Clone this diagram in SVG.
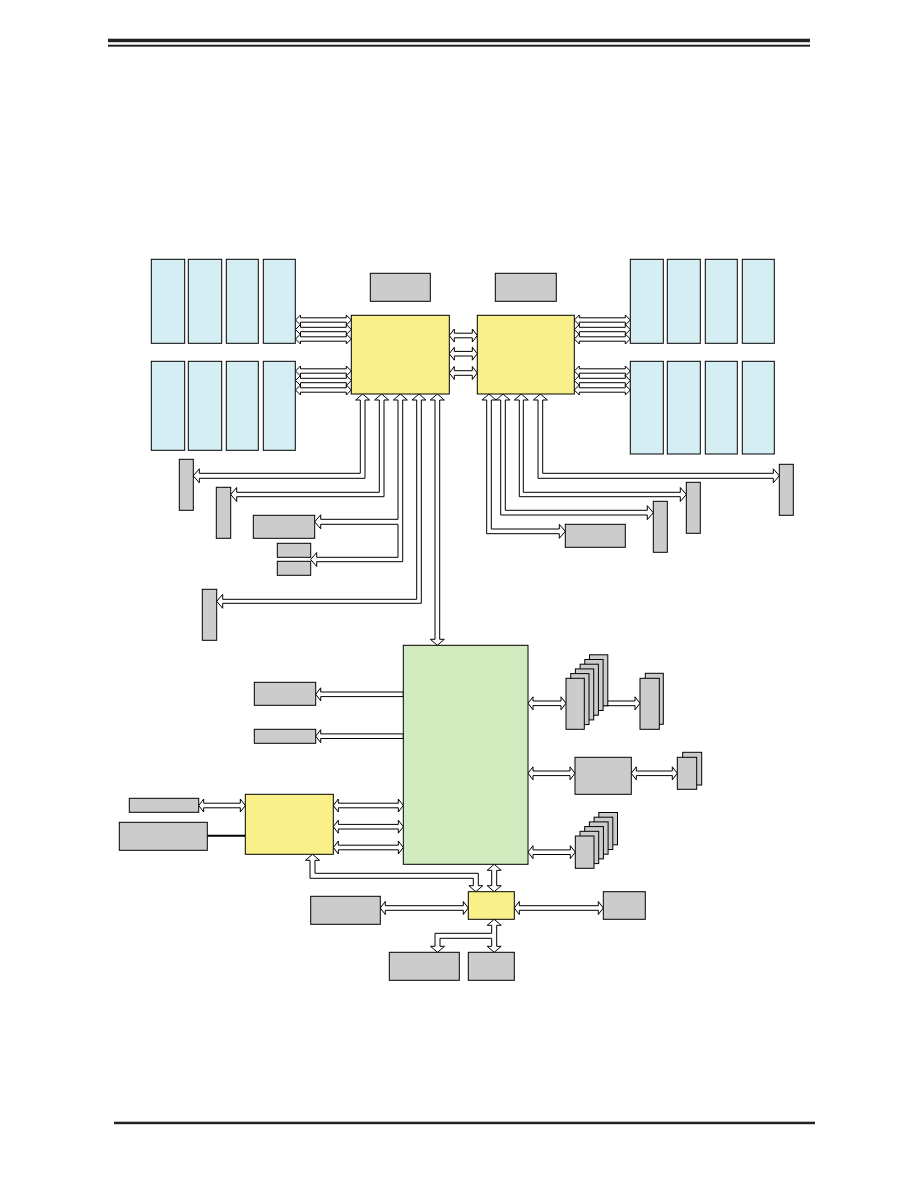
<svg xmlns="http://www.w3.org/2000/svg" width="918" height="1188" viewBox="0 0 918 1188">
<style>
.ln{fill:#222;}
.dimm{fill:#d5eef3;stroke:#000;stroke-width:1;}
.cpu{fill:#faf08a;stroke:#000;stroke-width:1;}
.pch{fill:#d2ebbf;stroke:#000;stroke-width:1;}
.gray{fill:#cccccc;stroke:#000;stroke-width:1;}
.arr{fill:#fff;stroke:#000;stroke-width:1;stroke-linejoin:miter;}
</style>
<rect width="918" height="1188" fill="#fff"/>
<g id="header">
<rect class="ln" x="108" y="38.7" width="702" height="3.5"/>
<rect class="ln" x="108" y="44.7" width="702" height="2"/>
</g>
<g id="footer">
<rect class="ln" x="114" y="1121.7" width="701" height="2.5"/>
</g>

<g id="connectors">
<!-- left DIMM arrows -->
<path class="arr" d="M295.5,320 l5,-5 v2.8 h45.8 v-2.8 l5,5 l-5,5 v-2.8 h-45.8 v2.8 z"/>
<path class="arr" d="M295.5,329.5 l5,-5 v2.8 h45.8 v-2.8 l5,5 l-5,5 v-2.8 h-45.8 v2.8 z"/>
<path class="arr" d="M295.5,339 l5,-5 v2.8 h45.8 v-2.8 l5,5 l-5,5 v-2.8 h-45.8 v2.8 z"/>
<path class="arr" d="M295.5,371 l5,-5 v2.8 h45.8 v-2.8 l5,5 l-5,5 v-2.8 h-45.8 v2.8 z"/>
<path class="arr" d="M295.5,380.5 l5,-5 v2.8 h45.8 v-2.8 l5,5 l-5,5 v-2.8 h-45.8 v2.8 z"/>
<path class="arr" d="M295.5,390 l5,-5 v2.8 h45.8 v-2.8 l5,5 l-5,5 v-2.8 h-45.8 v2.8 z"/>
<!-- right DIMM arrows -->
<path class="arr" d="M574.3,320 l5,-5 v2.8 h46 v-2.8 l5,5 l-5,5 v-2.8 h-46 v2.8 z"/>
<path class="arr" d="M574.3,329.5 l5,-5 v2.8 h46 v-2.8 l5,5 l-5,5 v-2.8 h-46 v2.8 z"/>
<path class="arr" d="M574.3,339 l5,-5 v2.8 h46 v-2.8 l5,5 l-5,5 v-2.8 h-46 v2.8 z"/>
<path class="arr" d="M574.3,371 l5,-5 v2.8 h46 v-2.8 l5,5 l-5,5 v-2.8 h-46 v2.8 z"/>
<path class="arr" d="M574.3,380.5 l5,-5 v2.8 h46 v-2.8 l5,5 l-5,5 v-2.8 h-46 v2.8 z"/>
<path class="arr" d="M574.3,390 l5,-5 v2.8 h46 v-2.8 l5,5 l-5,5 v-2.8 h-46 v2.8 z"/>
<!-- inter-CPU -->
<path class="arr" d="M449.3,335.5 l5,-6.5 v4.2 h18 v-4.2 l5,6.5 l-5,6.5 v-4.2 h-18 v4.2 z"/>
<path class="arr" d="M449.3,353.7 l5,-6.5 v4.2 h18 v-4.2 l5,6.5 l-5,6.5 v-4.2 h-18 v4.2 z"/>
<path class="arr" d="M449.3,373 l5,-6.5 v4.2 h18 v-4.2 l5,6.5 l-5,6.5 v-4.2 h-18 v4.2 z"/>
<!-- CPU1 bottom arrows -->
<path class="arr" d="M362.65,394 L369.65,400 H365 V478.3 H199.3 V482.8 L193.3,475.8 L199.3,468.8 V473.3 H360.3 V400 H355.65 Z"/>
<path class="arr" d="M381.65,394 L388.65,400 H384 V496.7 H236.7 V501.5 L230.7,494.5 L236.7,487.5 V492.3 H379.3 V400 H374.65 Z"/>
<path class="arr" d="M400.35,394 L407.35,400 H402.7 V561.7 H316.7 V566.5 L310.7,559.5 L316.7,552.5 V557.3 H398 V524.3 H320.7 V528.8 L314.7,521.8 L320.7,514.8 V519.3 H398 V400 H393.35 Z"/>
<path class="arr" d="M419,394 L426,400 H421.3 V603.3 H222.7 V608.3 L216.7,601.3 L222.7,594.3 V599.3 H416.7 V400 H412 Z"/>
<path class="arr" d="M437.35,394 l7,6 h-4.65 V639.3 h4.65 l-7,6 l-7,-6 h4.65 V400 h-4.65 z"/>
<!-- CPU2 bottom arrows -->
<path class="arr" d="M489,394 L496,400 H491.3 V529 H559.3 V524.35 L565.3,531.35 L559.3,538.35 V533.7 H486.7 V400 H482 Z"/>
<path class="arr" d="M503,394 L510,400 H505.3 V510.3 H647.3 V505.65 L653.3,512.65 L647.3,519.65 V515 H500.7 V400 H496 Z"/>
<path class="arr" d="M521.3,394 L528.3,400 H523.3 V492.3 H680.3 V487.5 L686.3,494.5 L680.3,501.5 V496.7 H519.3 V400 H514.3 Z"/>
<path class="arr" d="M540.35,394 L547.35,400 H542.7 V473.3 H773.3 V468.8 L779.3,475.8 L773.3,482.8 V478.3 H538 V400 H533.35 Z"/>
<!-- PCH left single arrows -->
<path class="arr" d="M315.7,694.3 l5,-6.5 v4.2 H403.3 v4.6 H320.7 v4.2 z"/>
<path class="arr" d="M315.7,736.2 l5,-6.5 v4.2 H403.3 v4.6 H320.7 v4.2 z"/>
<!-- N - M -->
<path class="arr" d="M198.7,805.5 l5,-6.5 v4.2 h36.6 v-4.2 l5,6.5 l-5,6.5 v-4.2 h-36.6 v4.2 z"/>
<line x1="207.3" y1="835.7" x2="245.3" y2="835.7" stroke="#000" stroke-width="2"/>
<!-- M - PCH -->
<path class="arr" d="M333.3,805.5 l5,-6.5 v4.2 h60 v-4.2 l5,6.5 l-5,6.5 v-4.2 h-60 v4.2 z"/>
<path class="arr" d="M333.3,826.7 l5,-6.5 v4.2 h60 v-4.2 l5,6.5 l-5,6.5 v-4.2 h-60 v4.2 z"/>
<path class="arr" d="M333.3,847.5 l5,-6.5 v4.2 h60 v-4.2 l5,6.5 l-5,6.5 v-4.2 h-60 v4.2 z"/>
<!-- PCH right -->
<path class="arr" d="M528,703.3 l5,-6.5 v4.2 h28 v-4.2 l5,6.5 l-5,6.5 v-4.2 h-28 v4.2 z"/>
<path class="arr" d="M595,701 H635 V696.8 L640,703.3 L635,709.8 V705.7 H595 Z"/>
<path class="arr" d="M528,773.3 l5,-6.5 v4.2 h37 v-4.2 l5,6.5 l-5,6.5 v-4.2 h-37 v4.2 z"/>
<path class="arr" d="M631.3,773.3 l5,-6.5 v4.2 h36 v-4.2 l5,6.5 l-5,6.5 v-4.2 h-36 v4.2 z"/>
<path class="arr" d="M528,852.2 l5,-6.5 v4.2 h37.3 v-4.2 l5,6.5 l-5,6.5 v-4.2 h-37.3 v4.2 z"/>
<!-- hub -->
<path class="arr" d="M494.2,864.3 l7,6 h-4.5 V885.7 h4.5 l-7,6 l-7,-6 h4.5 V870.3 h-4.5 z"/>
<path class="arr" d="M312.5,854.3 L319.5,860.3 H315 V873.3 H478.3 V885.7 H482.8 L475.8,891.7 L468.8,885.7 H473.3 V878.3 H310 V860.3 H305.5 Z"/>
<path class="arr" d="M380.3,908 l5,-6.5 v4.2 h78 v-4.2 l5,6.5 l-5,6.5 v-4.2 h-78 v4.2 z"/>
<path class="arr" d="M514.3,908 l5,-6.5 v4.2 h79 v-4.2 l5,6.5 l-5,6.5 v-4.2 h-79 v4.2 z"/>
<path class="arr" d="M494.2,919.3 L501.2,925.3 H496.7 V946.3 H501.2 L494.2,952.3 L487.2,946.3 H491.7 V938.3 H440 V946.3 H444.5 L437.5,952.3 L430.5,946.3 H435 V933.3 H491.7 V925.3 H487.2 Z"/>
</g>

<g id="dimms-cpu1">
<rect class="dimm" x="151.3" y="259.3" width="33.4" height="84"/>
<rect class="dimm" x="188.3" y="259.3" width="33.4" height="84"/>
<rect class="dimm" x="226.3" y="259.3" width="32" height="84"/>
<rect class="dimm" x="263.3" y="259.3" width="32" height="84"/>
<rect class="dimm" x="151.3" y="361.3" width="33.4" height="89"/>
<rect class="dimm" x="188.3" y="361.3" width="33.4" height="89"/>
<rect class="dimm" x="226.3" y="361.3" width="32" height="89"/>
<rect class="dimm" x="263.3" y="361.3" width="32" height="89"/>
</g>
<g id="dimms-cpu2">
<rect class="dimm" x="630.3" y="259.3" width="33" height="84"/>
<rect class="dimm" x="667.3" y="259.3" width="33" height="84"/>
<rect class="dimm" x="705.3" y="259.3" width="32" height="84"/>
<rect class="dimm" x="742.3" y="259.3" width="32" height="84"/>
<rect class="dimm" x="630.3" y="361.3" width="33" height="92.7"/>
<rect class="dimm" x="667.3" y="361.3" width="33" height="92.7"/>
<rect class="dimm" x="705.3" y="361.3" width="32" height="92.7"/>
<rect class="dimm" x="742.3" y="361.3" width="32" height="92.7"/>
</g>
<g id="vrm1"><rect class="gray" x="370.3" y="273.3" width="60" height="28"/></g>
<g id="vrm2"><rect class="gray" x="495.3" y="273.3" width="61" height="28"/></g>
<g id="cpu1"><rect class="cpu" x="351.3" y="315.3" width="98" height="78.7"/></g>
<g id="cpu2"><rect class="cpu" x="477.3" y="315.3" width="97" height="78.7"/></g>
<g id="slotA"><rect class="gray" x="179.3" y="459.3" width="14" height="51"/></g>
<g id="slotB"><rect class="gray" x="216.3" y="487.3" width="14.4" height="51"/></g>
<g id="boxC"><rect class="gray" x="253.3" y="515.3" width="61.4" height="23"/></g>
<g id="boxD"><rect class="gray" x="277.3" y="543.3" width="33.4" height="14"/></g>
<g id="boxE"><rect class="gray" x="277.3" y="561.3" width="33.4" height="14"/></g>
<g id="slotF"><rect class="gray" x="202.3" y="589.3" width="14.4" height="51"/></g>
<g id="boxG"><rect class="gray" x="565.3" y="524.3" width="60" height="23"/></g>
<g id="slotH"><rect class="gray" x="653.3" y="501.3" width="14" height="51"/></g>
<g id="slotI"><rect class="gray" x="686.3" y="482.3" width="14" height="51"/></g>
<g id="slotJ"><rect class="gray" x="779.3" y="464.3" width="14" height="51"/></g>
<g id="pch"><rect class="pch" x="403.3" y="645.3" width="124.7" height="219"/></g>
<g id="boxK"><rect class="gray" x="254.3" y="682.3" width="61.4" height="23"/></g>
<g id="boxL"><rect class="gray" x="254.3" y="729.3" width="61.4" height="14"/></g>
<g id="bmc"><rect class="cpu" x="245.3" y="794.3" width="88" height="60"/></g>
<g id="boxN"><rect class="gray" x="129.3" y="798.3" width="69.4" height="14"/></g>
<g id="boxO"><rect class="gray" x="119.3" y="822.3" width="88" height="28"/></g>
<g id="stack1">
<rect class="gray" x="589.5" y="654.8" width="18.3" height="51"/>
<rect class="gray" x="584.8" y="659.5" width="18.3" height="51"/>
<rect class="gray" x="580.1" y="664.2" width="18.3" height="51"/>
<rect class="gray" x="575.4" y="668.9" width="18.3" height="51"/>
<rect class="gray" x="570.7" y="673.6" width="18.3" height="51"/>
<rect class="gray" x="566" y="678.3" width="18.3" height="51"/>
</g>
<g id="stack2">
<rect class="gray" x="645.3" y="673.3" width="18" height="51"/>
<rect class="gray" x="640" y="678.3" width="19.3" height="51"/>
</g>
<g id="boxT"><rect class="gray" x="575" y="757.3" width="56.3" height="37"/></g>
<g id="stack3">
<rect class="gray" x="682.7" y="752.3" width="19" height="32.7"/>
<rect class="gray" x="677.3" y="757.3" width="19.4" height="32"/>
</g>
<g id="stack4">
<rect class="gray" x="598.8" y="812.5" width="18.7" height="32.3"/>
<rect class="gray" x="594.1" y="817.2" width="18.7" height="32.3"/>
<rect class="gray" x="589.4" y="821.9" width="18.7" height="32.3"/>
<rect class="gray" x="584.7" y="826.6" width="18.7" height="32.3"/>
<rect class="gray" x="580" y="831.3" width="18.7" height="32.3"/>
<rect class="gray" x="575.3" y="836" width="18.7" height="32.3"/>
</g>
<g id="hub"><rect class="cpu" x="468.3" y="891.7" width="46" height="27.6"/></g>
<g id="boxP"><rect class="gray" x="310.7" y="896.3" width="69.6" height="28"/></g>
<g id="boxQ"><rect class="gray" x="603.3" y="891.7" width="42" height="27.6"/></g>
<g id="boxR"><rect class="gray" x="389.3" y="952.3" width="70" height="28"/></g>
<g id="boxS"><rect class="gray" x="468.3" y="952.3" width="46" height="28"/></g>
</svg>
